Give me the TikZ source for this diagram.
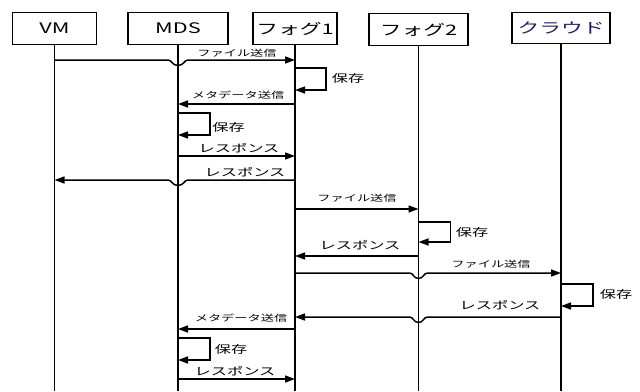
\documentclass[tikz,border=0pt]{standalone}
\usepackage{fontspec}
\setmainfont{Noto Sans CJK JP}[FakeStretch=1.5]
\usetikzlibrary{arrows.meta,calc}
\definecolor{navy}{HTML}{1F1F5C}
\tikzset{
  actor/.style={draw=black, line width=1.2pt, minimum width=#1, minimum height=32pt, inner sep=0pt, font=\fontsize{14.5}{14.5}\selectfont, anchor=north},
  actor/.default=84pt,
  life/.style={line width=1.5pt},
  msg/.style={line width=1.5pt, -{Triangle[length=10pt,width=7pt]}},
  lbl/.style={inner sep=0pt, font=\fontsize{8.8}{9}\selectfont},
  lblr/.style={inner sep=0pt, font=\fontsize{10.8}{11}\selectfont},
}
\begin{document}
\begin{tikzpicture}[x=1pt,y=-1pt]
\useasboundingbox (0,0) rectangle (640,391);
% actors
\node[actor=84pt] (vm) at (54.5,12) {VM};
\node[actor=100pt] (mds) at (178,12) {MDS};
\node[actor=84pt] (f1) at (295,12) {フォグ1};
\node[actor=99pt] (f2) at (418.5,13) {フォグ2};
\node[actor=98pt, minimum height=31pt, text=navy] (cl) at (561,12) {クラウド};
% lifeline ends
\coordinate (vmb) at (vm |- 0,391);
\coordinate (mdsb) at (mds |- 0,391);
\coordinate (f1b) at (f1 |- 0,391);
\coordinate (f2b) at (f2 |- 0,391);
\coordinate (clb) at (cl |- 0,391);
\draw[life] (vm) -- (vmb);
\draw[life] (mds) -- (mdsb);
\draw[life] (f1) -- (f1b);
\draw[life] (f2) -- (f2b);
\draw[life] (cl) -- (clb);
% 1 VM -> Fog1 with jump over MDS
\draw[msg] (vm |- 0,60) -- ([xshift=-10pt]mds |- 0,60) .. controls +(4,0) and +(-6,0) .. ++(10,5.5) .. controls +(6,0) and +(-4,0) .. ++(10,-5.5) -- (f1 |- 0,60);
\node[lbl] (t1) at (237,53.5) {ファイル送信};
% 2 Fog1 save
\draw[msg] (f1 |- 0,68) -- ++(31,0) |- (f1 |- 0,90);
\node[lblr] (t2) at (348,78) {保存};
% 3 Fog1 -> MDS
\draw[msg] (f1 |- 0,104) -- (mds |- 0,104);
\node[lbl] (t3) at (238,95) {メタデータ送信};
% 4 MDS save
\draw[msg] (mds |- 0,113) -- ++(32,0) |- (mds |- 0,135);
\node[lblr] (t4) at (228.5,127) {保存};
% 5 MDS -> Fog1
\draw[msg] (mds |- 0,156) -- (f1 |- 0,156);
\node[lblr] (t5) at (239,148.5) {レスポンス};
% 6 Fog1 -> VM with jump
\draw[msg] (f1 |- 0,180) -- ([xshift=10pt]mds |- 0,180) .. controls +(-4,0) and +(6,0) .. ++(-10,5.5) .. controls +(-6,0) and +(4,0) .. ++(-10,-5.5) -- (vm |- 0,180);
\node[lblr] (t6) at (245,172) {レスポンス};
% 7 Fog1 -> Fog2
\draw[msg] (f1 |- 0,209) -- (f2 |- 0,209);
\node[lbl] (t7) at (357,198.5) {ファイル送信};
% 8 Fog2 save
\draw[msg] (f2 |- 0,222) -- ++(32,0) |- (f2 |- 0,242);
\node[lblr] (t8) at (472,232) {保存};
% 9 Fog2 -> Fog1
\draw[msg] (f2 |- 0,256) -- (f1 |- 0,256);
\node[lblr] (t9) at (360,245) {レスポンス};
% 10 Fog1 -> Cloud with jump over Fog2
\draw[msg] (f1 |- 0,273) -- ([xshift=-9pt]f2 |- 0,273) .. controls +(4,0) and +(-5,0) .. ++(9,5.5) .. controls +(5,0) and +(-4,0) .. ++(9,-5.5) -- (cl |- 0,273);
\node[lbl] (t10) at (491,264) {ファイル送信};
% 11 Cloud save
\draw[msg] (cl |- 0,284) -- ++(32,0) |- (cl |- 0,306);
\node[lblr] (t11) at (616,294) {保存};
% 12 Cloud -> Fog1 with jump
\draw[msg] (cl |- 0,317) -- ([xshift=9pt]f2 |- 0,317) .. controls +(-4,0) and +(5,0) .. ++(-9,5.5) .. controls +(-5,0) and +(4,0) .. ++(-9,-5.5) -- (f1 |- 0,317);
\node[lblr] (t12) at (500,305) {レスポンス};
% 13 Fog1 -> MDS
\draw[msg] (f1 |- 0,329) -- (mds |- 0,329);
\node[lbl] (t13) at (241,318) {メタデータ送信};
% 14 MDS save
\draw[msg] (mds |- 0,338) -- ++(32,0) |- (mds |- 0,360);
\node[lblr] (t14) at (231,349) {保存};
% 15 MDS -> Fog1
\draw[msg] (mds |- 0,379) -- (f1 |- 0,379);
\node[lblr] (t15) at (235,371) {レスポンス};
\end{tikzpicture}
\end{document}
